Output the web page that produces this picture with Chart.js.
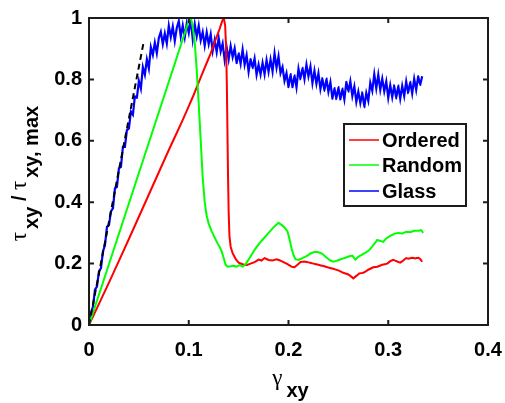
<!DOCTYPE html>
<html>
<head>
<meta charset="utf-8">
<script src="https://cdn.jsdelivr.net/npm/chart.js@4.4.0/dist/chart.umd.min.js"></script>
<style>
  html, body { margin: 0; padding: 0; background: #ffffff; }
  canvas { display: block; }
</style>
</head>
<body>
<canvas id="chart" width="505" height="403"></canvas>
<script>
// Normalised shear stress vs. shear strain for three packings

const xTickValues = [0, 0.1, 0.2, 0.3, 0.4];
const xTickLabels = ['0', '0.1', '0.2', '0.3', '0.4'];
const yTickValues = [0, 0.2, 0.4, 0.6, 0.8, 1];
const yTickLabels = ['0', '0.2', '0.4', '0.6', '0.8', '1'];

const seriesNames = ['Ordered', 'Random', 'Glass'];

const strainOrdered = [0, 0.02, 0.04, 0.06, 0.08, 0.094, 0.105, 0.115, 0.122, 0.127,
  0.131, 0.1335, 0.1352, 0.1365, 0.1375, 0.1382, 0.1388, 0.1394, 0.14, 0.1408,
  0.142, 0.144, 0.147, 0.150, 0.154, 0.158, 0.162, 0.166, 0.170, 0.173,
  0.176, 0.180, 0.184, 0.188, 0.191, 0.195, 0.199, 0.203, 0.206, 0.209,
  0.212, 0.216, 0.220, 0.225, 0.230, 0.235, 0.240, 0.245, 0.250, 0.255,
  0.259, 0.262, 0.265, 0.268, 0.271, 0.275, 0.280, 0.285, 0.289, 0.294,
  0.299, 0.302, 0.305, 0.309, 0.312, 0.315, 0.318, 0.320, 0.324, 0.327,
  0.330, 0.332, 0.334];
const stressOrdered = [0, 0.138, 0.28, 0.425, 0.57, 0.668, 0.75, 0.83, 0.885, 0.93,
  0.965, 0.99, 1.0, 0.975, 0.90, 0.78, 0.63, 0.48, 0.37, 0.29,
  0.255, 0.234, 0.215, 0.203, 0.198, 0.195, 0.2, 0.205, 0.213, 0.21,
  0.218, 0.212, 0.21, 0.214, 0.211, 0.205, 0.198, 0.19, 0.188, 0.196,
  0.205, 0.207, 0.204, 0.2, 0.196, 0.192, 0.187, 0.183, 0.178, 0.17,
  0.166, 0.16, 0.152, 0.16, 0.168, 0.17, 0.18, 0.188, 0.19, 0.196,
  0.2, 0.208, 0.212, 0.207, 0.203, 0.21, 0.218, 0.216, 0.219, 0.217,
  0.219, 0.215, 0.206];

const strainRandom = [0, 0.05, 0.101, 0.1025, 0.104, 0.106, 0.108, 0.110, 0.112, 0.114,
  0.116, 0.118, 0.120, 0.123, 0.126, 0.129, 0.131, 0.133, 0.135, 0.137,
  0.139, 0.142, 0.145, 0.148, 0.151, 0.154, 0.157, 0.161, 0.166, 0.171,
  0.176, 0.180, 0.185, 0.190, 0.193, 0.196, 0.199, 0.201, 0.203, 0.205,
  0.207, 0.210, 0.214, 0.218, 0.222, 0.226, 0.230, 0.234, 0.238, 0.242,
  0.245, 0.249, 0.253, 0.257, 0.261, 0.264, 0.267, 0.270, 0.273, 0.277,
  0.281, 0.285, 0.289, 0.292, 0.295, 0.298, 0.302, 0.306, 0.310, 0.314,
  0.318, 0.322, 0.326, 0.330, 0.333, 0.335];
const stressRandom = [0, 0.495, 1.0, 0.995, 0.97, 0.92, 0.83, 0.72, 0.60, 0.48,
  0.40, 0.355, 0.33, 0.305, 0.285, 0.265, 0.254, 0.24, 0.218, 0.196,
  0.19, 0.191, 0.193, 0.19, 0.195, 0.19, 0.198, 0.218, 0.245, 0.267,
  0.285, 0.30, 0.318, 0.333, 0.326, 0.318, 0.305, 0.28, 0.25, 0.228,
  0.214, 0.212, 0.218, 0.224, 0.233, 0.238, 0.237, 0.232, 0.22, 0.21,
  0.206, 0.21, 0.215, 0.219, 0.224, 0.226, 0.213, 0.222, 0.228, 0.235,
  0.244, 0.26, 0.277, 0.274, 0.271, 0.282, 0.29, 0.297, 0.30, 0.298,
  0.304, 0.302, 0.307, 0.307, 0.309, 0.30];

const strainGlass = [0, 0.002, 0.004, 0.006, 0.008, 0.010, 0.012, 0.014, 0.016, 0.018,
  0.020, 0.022, 0.024, 0.026, 0.028, 0.030, 0.032, 0.034, 0.036, 0.038,
  0.040, 0.042, 0.044, 0.046, 0.048, 0.050, 0.052, 0.054, 0.056, 0.058,
  0.060, 0.062, 0.064, 0.066, 0.068, 0.070, 0.072, 0.074, 0.076, 0.078,
  0.080, 0.082, 0.084, 0.086, 0.088, 0.090, 0.092, 0.094, 0.096, 0.098,
  0.100, 0.102, 0.104, 0.106, 0.108, 0.110, 0.112, 0.114, 0.116, 0.118,
  0.120, 0.122, 0.124, 0.126, 0.128, 0.130, 0.132, 0.134, 0.136, 0.138,
  0.140, 0.142, 0.144, 0.146, 0.148, 0.150, 0.152, 0.154, 0.156, 0.158,
  0.160, 0.162, 0.164, 0.166, 0.168, 0.170, 0.172, 0.174, 0.176, 0.178,
  0.180, 0.182, 0.184, 0.186, 0.188, 0.190, 0.192, 0.194, 0.196, 0.198,
  0.200, 0.202, 0.204, 0.206, 0.208, 0.210, 0.212, 0.214, 0.216, 0.218,
  0.220, 0.222, 0.224, 0.226, 0.228, 0.230, 0.232, 0.234, 0.236, 0.238,
  0.240, 0.242, 0.244, 0.246, 0.248, 0.250, 0.252, 0.254, 0.256, 0.258,
  0.260, 0.262, 0.264, 0.266, 0.268, 0.270, 0.272, 0.274, 0.276, 0.278,
  0.280, 0.282, 0.284, 0.286, 0.288, 0.290, 0.292, 0.294, 0.296, 0.298,
  0.300, 0.302, 0.304, 0.306, 0.308, 0.310, 0.312, 0.314, 0.316, 0.318,
  0.320, 0.322, 0.324, 0.326, 0.328, 0.330, 0.332, 0.334];
const stressGlass = [0, 0.04, 0.06, 0.115, 0.125, 0.175, 0.185, 0.24, 0.26, 0.32,
  0.325, 0.37, 0.38, 0.445, 0.45, 0.51, 0.515, 0.58, 0.58, 0.635,
  0.64, 0.695, 0.685, 0.745, 0.74, 0.795, 0.77, 0.84, 0.815, 0.865,
  0.835, 0.905, 0.88, 0.92, 0.885, 0.935, 0.955, 0.915, 0.95, 0.917,
  0.975, 0.938, 0.972, 0.925, 0.968, 0.99, 0.94, 0.976, 0.937, 0.982,
  0.952, 0.997, 0.931, 0.98, 0.94, 0.975, 0.927, 0.954, 0.91, 0.953,
  0.915, 0.947, 0.893, 0.928, 0.889, 0.935, 0.891, 0.917, 0.863, 0.904,
  0.865, 0.909, 0.873, 0.901, 0.853, 0.885, 0.851, 0.897, 0.848, 0.879,
  0.825, 0.866, 0.837, 0.868, 0.815, 0.848, 0.816, 0.854, 0.817, 0.863,
  0.825, 0.865, 0.826, 0.885, 0.838, 0.875, 0.82, 0.84, 0.795, 0.82,
  0.775, 0.817, 0.775, 0.813, 0.774, 0.835, 0.801, 0.838, 0.801, 0.848,
  0.81, 0.842, 0.788, 0.828, 0.786, 0.82, 0.769, 0.803, 0.762, 0.803,
  0.76, 0.791, 0.737, 0.772, 0.736, 0.775, 0.735, 0.77, 0.735, 0.792,
  0.76, 0.794, 0.746, 0.777, 0.727, 0.76, 0.723, 0.756, 0.71, 0.756,
  0.73, 0.789, 0.763, 0.817, 0.771, 0.815, 0.766, 0.802, 0.761, 0.793,
  0.74, 0.781, 0.742, 0.78, 0.737, 0.78, 0.737, 0.779, 0.746, 0.793,
  0.755, 0.792, 0.754, 0.802, 0.766, 0.81, 0.782, 0.81];

// Linear elastic fit of the glass curve
const strainFit = [0, 0.055];
const stressFit = [0, 0.925];

function toPoints(xs, ys) {
  return xs.map((x, i) => ({ x: x, y: ys[i] }));
}

const TICK_FONT = { family: '"Liberation Sans", Arial, sans-serif', size: 20, weight: 'bold' };
const AXIS_COLOR = '#1c1c1c';

// Box frame with inward ticks on all four sides
const framePlugin = {
  id: 'frame',
  afterDatasetsDraw(chart) {
    const ctx = chart.ctx;
    const { left, right, top, bottom } = chart.chartArea;
    const xs = chart.scales.x, ys = chart.scales.y;
    const len = 5;
    ctx.save();
    ctx.strokeStyle = AXIS_COLOR;
    ctx.lineWidth = 2;
    ctx.beginPath();
    xTickValues.forEach(v => {
      const px = xs.getPixelForValue(v);
      ctx.moveTo(px, bottom); ctx.lineTo(px, bottom - len);
      ctx.moveTo(px, top); ctx.lineTo(px, top + len);
    });
    yTickValues.forEach(v => {
      const py = ys.getPixelForValue(v);
      ctx.moveTo(left, py); ctx.lineTo(left + len, py);
      ctx.moveTo(right, py); ctx.lineTo(right - len, py);
    });
    ctx.stroke();
    ctx.strokeRect(left, top, right - left, bottom - top);
    ctx.restore();
  }
};

// Boxed legend inside the plot area
const legendPlugin = {
  id: 'boxLegend',
  afterDraw(chart) {
    const ctx = chart.ctx;
    const { right, top } = chart.chartArea;
    const boxW = 122, boxH = 82;
    const bx = right - 22 - boxW, by = top + 106;
    ctx.save();
    ctx.fillStyle = '#ffffff';
    ctx.fillRect(bx, by, boxW, boxH);
    ctx.strokeStyle = AXIS_COLOR;
    ctx.lineWidth = 2;
    ctx.strokeRect(bx, by, boxW, boxH);
    ctx.font = 'bold 20px "Liberation Sans", Arial, sans-serif';
    ctx.textBaseline = 'middle';
    ctx.textAlign = 'left';
    const rows = [16, 41, 67];
    seriesNames.forEach((name, i) => {
      const ds = chart.data.datasets.find(d => d.label === name);
      const ry = by + rows[i];
      ctx.strokeStyle = ds.borderColor;
      ctx.lineWidth = 1.5;
      ctx.beginPath();
      ctx.moveTo(bx + 5, ry); ctx.lineTo(bx + 35, ry);
      ctx.stroke();
      ctx.fillStyle = '#000000';
      ctx.fillText(name, bx + 38, ry + 1);
    });
    ctx.restore();
  }
};

// Draws a run of text pieces (some as subscripts) centred on x=0
function drawRich(ctx, pieces) {
  let total = 0;
  pieces.forEach(p => { ctx.font = p.font; p.w = ctx.measureText(p.t).width; total += p.w + (p.gap || 0); });
  let x = -total / 2;
  pieces.forEach(p => {
    x += (p.gap || 0);
    ctx.font = p.font;
    ctx.fillText(p.t, x, p.dy || 0);
    x += p.w;
  });
}

const GREEK = '23px "Liberation Serif", "Times New Roman", serif';
const SUB = 'bold 20px "Liberation Sans", Arial, sans-serif';

const axisTitlePlugin = {
  id: 'axisTitles',
  afterDraw(chart) {
    const ctx = chart.ctx;
    const { left, right, top, bottom } = chart.chartArea;
    ctx.save();
    ctx.fillStyle = '#000000';
    ctx.textAlign = 'left';
    ctx.textBaseline = 'alphabetic';
    // x-axis title: γ_xy
    ctx.save();
    ctx.translate((left + right) / 2 + 2, bottom + 60);
    drawRich(ctx, [
      { t: 'γ', font: GREEK },
      { t: 'xy', font: SUB, dy: 12, gap: 4 }
    ]);
    ctx.restore();
    // y-axis title: τ_xy / τ_xy, max
    ctx.save();
    ctx.translate(26, (top + bottom) / 2 + 2);
    ctx.rotate(-Math.PI / 2);
    drawRich(ctx, [
      { t: 'τ', font: GREEK },
      { t: 'xy', font: SUB, dy: 12, gap: 3 },
      { t: ' / ', font: SUB },
      { t: 'τ', font: GREEK },
      { t: 'xy, max', font: SUB, dy: 12, gap: 3 }
    ]);
    ctx.restore();
    ctx.restore();
  }
};

// A vanishing tension keeps the segments straight while every point is stroked individually
const LINE_TENSION = 0.0001;

new Chart(document.getElementById('chart'), {
  type: 'line',
  data: {
    datasets: [
      { label: '', data: toPoints(strainFit, stressFit), borderColor: '#000000', borderWidth: 2, borderDash: [6, 4], order: 0 },
      { label: 'Random', data: toPoints(strainRandom, stressRandom), borderColor: '#00ff00', borderWidth: 2, order: 1 },
      { label: 'Ordered', data: toPoints(strainOrdered, stressOrdered), borderColor: '#ff0000', borderWidth: 2, order: 2 },
      { label: 'Glass', data: toPoints(strainGlass, stressGlass), borderColor: '#0000ff', borderWidth: 2.2, order: 3 }
    ]
  },
  options: {
    responsive: false,
    animation: false,
    devicePixelRatio: 1,
    elements: { point: { radius: 0 }, line: { tension: LINE_TENSION, fill: false, capBezierPoints: false } },
    layout: { padding: { top: 18, right: 17, left: 0, bottom: 0 } },
    plugins: { legend: { display: false }, tooltip: { enabled: false }, title: { display: false } },
    scales: {
      x: {
        type: 'linear',
        min: 0, max: 0.4,
        afterFit(scale) { scale.height = 78; scale.paddingLeft = 0; scale.paddingRight = 0; },
        afterBuildTicks(scale) { scale.ticks = xTickValues.map(v => ({ value: v })); },
        grid: { display: false, drawTicks: false },
        border: { display: false },
        ticks: {
          color: '#000000', font: TICK_FONT, padding: 13, maxRotation: 0,
          callback: (v, i) => xTickLabels[i]
        }
      },
      y: {
        type: 'linear',
        min: 0, max: 1,
        afterFit(scale) { scale.width = 89; scale.paddingTop = 0; scale.paddingBottom = 0; },
        afterBuildTicks(scale) { scale.ticks = yTickValues.map(v => ({ value: v })); },
        grid: { display: false, drawTicks: false },
        border: { display: false },
        ticks: {
          color: '#000000', font: TICK_FONT, padding: 7,
          callback: (v, i) => yTickLabels[i]
        }
      }
    }
  },
  plugins: [framePlugin, legendPlugin, axisTitlePlugin]
});
</script>
</body>
</html>
